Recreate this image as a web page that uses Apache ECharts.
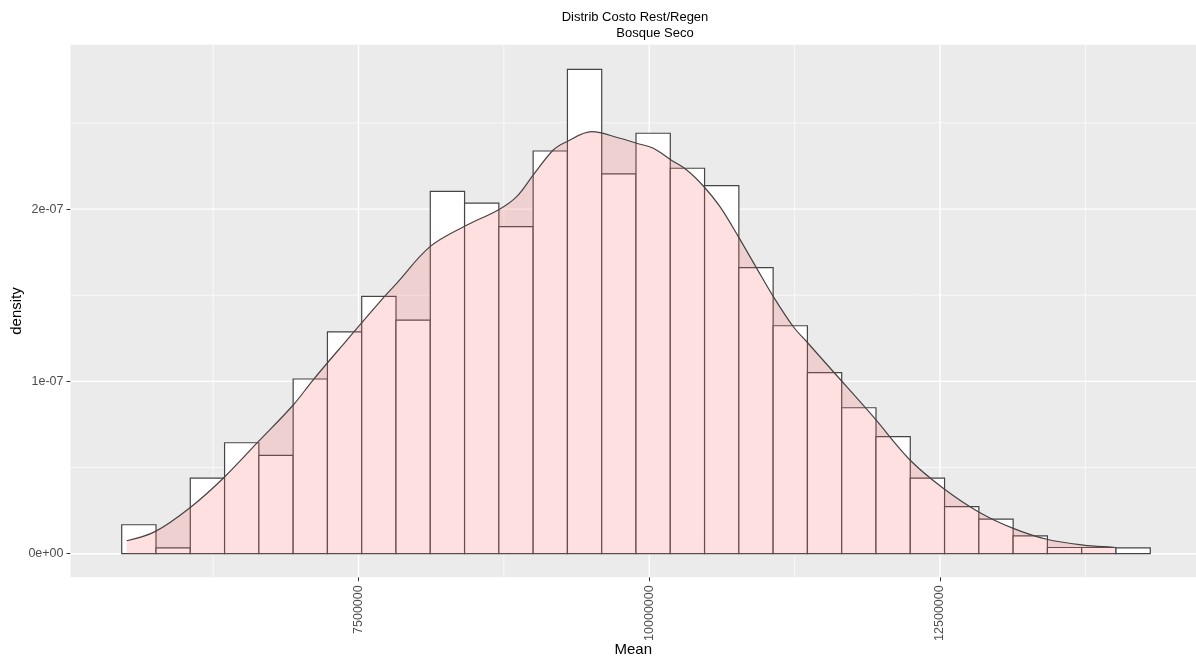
<!DOCTYPE html>
<html>
<head>
<meta charset="utf-8">
<script src="https://cdn.jsdelivr.net/npm/echarts@6/dist/echarts.min.js"></script>
<style>
html,body{margin:0;padding:0;background:#fff;}
#c{width:1196px;height:664px;}
</style>
</head>
<body>
<div id="c"></div>
<script>
// ---- data ----
var binCenters = [5611400, 5906200, 6201000, 6495800, 6790600, 7085400, 7380200, 7675000, 7969800, 8264600,
  8559400, 8854200, 9149000, 9443800, 9738600, 10033400, 10328200, 10623000, 10917800, 11212600,
  11507400, 11802200, 12097000, 12391800, 12686600, 12981400, 13276200, 13571000, 13865800, 14160600];
var binWidth = 294800;
var histDensity = [0.168e-7, 0.034e-7, 0.438e-7, 0.644e-7, 0.571e-7, 1.014e-7, 1.287e-7, 1.493e-7, 1.356e-7, 2.103e-7,
  2.034e-7, 1.898e-7, 2.337e-7, 2.811e-7, 2.204e-7, 2.440e-7, 2.237e-7, 2.136e-7, 1.660e-7, 1.323e-7,
  1.051e-7, 0.847e-7, 0.679e-7, 0.438e-7, 0.273e-7, 0.201e-7, 0.103e-7, 0.036e-7, 0.036e-7, 0.034e-7];
var kdeX = [5507000, 5750000, 6051000, 6337000, 6638000, 6939000, 7109000, 7393000, 7685000, 7828000,
  8115000, 8416000, 8702000, 8860000, 9003000, 9175000, 9290000, 9505000, 9748000, 9892000,
  10035000, 10178000, 10322000, 10465000, 10608000, 10766000, 10924000, 11067000, 11239000, 11354000,
  11583000, 11926000, 12242000, 12528000, 12829000, 13130000, 13417000, 13732000, 13990000, 14004000];
var kdeY = [0.075e-7, 0.128e-7, 0.267e-7, 0.438e-7, 0.650e-7, 0.863e-7, 1.008e-7, 1.234e-7, 1.463e-7, 1.569e-7,
  1.782e-7, 1.902e-7, 1.995e-7, 2.072e-7, 2.198e-7, 2.343e-7, 2.391e-7, 2.449e-7, 2.411e-7, 2.382e-7,
  2.353e-7, 2.289e-7, 2.227e-7, 2.134e-7, 2.014e-7, 1.840e-7, 1.656e-7, 1.492e-7, 1.317e-7, 1.230e-7,
  1.056e-7, 0.795e-7, 0.544e-7, 0.380e-7, 0.244e-7, 0.147e-7, 0.084e-7, 0.050e-7, 0.037e-7, 0.036e-7];
var xMajorTicks = [7500000, 10000000, 12500000];
var xMinorTicks = [6250000, 8750000, 11250000, 13750000];
var xTickLabels = ['7500000', '10000000', '12500000'];
var yMajorTicks = [0, 1e-7, 2e-7];
var yMinorTicks = [0.5e-7, 1.5e-7, 2.5e-7];
var yTickLabels = ['0e+00', '1e-07', '2e-07'];
var xRange = [5023600, 14701200];
var yRange = [-1.37e-8, 2.954e-7];

// ---- chart ----
var chart = echarts.init(document.getElementById('c'), null, {renderer: 'canvas'});
var histData = binCenters.map(function (c, i) { return [c, histDensity[i]]; });
var kdeData = kdeX.map(function (x, i) { return [x, kdeY[i]]; });
var vGrid = xMajorTicks.map(function (v) { return [v, 1]; }).concat(xMinorTicks.map(function (v) { return [v, 0]; }));
var hGrid = yMajorTicks.map(function (v) { return [v, 1]; }).concat(yMinorTicks.map(function (v) { return [v, 0]; }));

function labelFor(values, labels, v) {
  for (var i = 0; i < values.length; i++) {
    if (Math.abs(values[i] - v) <= Math.abs(values[values.length - 1]) * 1e-6 + 1e-20) return labels[i];
  }
  return '';
}

var FONT = 'Liberation Sans, Arial, sans-serif';

chart.setOption({
  animation: false,
  backgroundColor: '#ffffff',
  title: [
    {text: 'Distrib Costo Rest/Regen', left: 630, top: 6, textAlign: 'center',
     textStyle: {fontFamily: FONT, fontSize: 13, fontWeight: 'normal', color: '#000'}},
    {text: 'Bosque Seco', left: 650, top: 22, textAlign: 'center',
     textStyle: {fontFamily: FONT, fontSize: 13, fontWeight: 'normal', color: '#000'}}
  ],
  grid: {left: 70.5, right: 0, top: 44.7, bottom: 86.7, show: true, backgroundColor: '#EBEBEB', borderWidth: 0,
         containLabel: false, outerBoundsMode: 'none'},
  xAxis: {
    type: 'value', min: xRange[0], max: xRange[1],
    name: 'Mean', nameLocation: 'middle', nameGap: 65, nameMoveOverlap: false,
    nameTextStyle: {fontFamily: FONT, fontSize: 15, color: '#000'},
    axisLine: {show: false, onZero: false},
    axisTick: {show: true, length: 4, lineStyle: {color: '#333', width: 1}, customValues: xMajorTicks},
    axisLabel: {show: true, rotate: 90, margin: 8, customValues: xMajorTicks,
      fontFamily: FONT, fontSize: 12.5, color: '#4D4D4D',
      formatter: function (v) { return labelFor(xMajorTicks, xTickLabels, v); }},
    splitLine: {show: false}
  },
  yAxis: {
    type: 'value', min: yRange[0], max: yRange[1],
    name: 'density', nameLocation: 'middle', nameGap: 46, nameMoveOverlap: false,
    nameTextStyle: {fontFamily: FONT, fontSize: 15, color: '#000'},
    axisLine: {show: false, onZero: false},
    axisTick: {show: true, length: 4, lineStyle: {color: '#333', width: 1}, customValues: yMajorTicks},
    axisLabel: {show: true, margin: 7, customValues: yMajorTicks,
      fontFamily: FONT, fontSize: 12.5, color: '#4D4D4D',
      formatter: function (v) { return labelFor(yMajorTicks, yTickLabels, v); }},
    splitLine: {show: false}
  },
  series: [
    {
      type: 'custom', name: 'vgrid', z: 1, silent: true, clip: true,
      data: vGrid,
      renderItem: function (params, api) {
        var v = api.value(0), major = api.value(1);
        var p1 = api.coord([v, yRange[0]]), p2 = api.coord([v, yRange[1]]);
        return {type: 'line', shape: {x1: p1[0], y1: p1[1], x2: p2[0], y2: p2[1]},
          style: {stroke: '#ffffff', lineWidth: major ? 1.4 : 0.7}};
      }
    },
    {
      type: 'custom', name: 'hgrid', z: 1, silent: true, clip: true,
      data: hGrid,
      encode: {x: -1, y: 0},
      renderItem: function (params, api) {
        var v = api.value(0), major = api.value(1);
        var p1 = api.coord([xRange[0], v]), p2 = api.coord([xRange[1], v]);
        return {type: 'line', shape: {x1: p1[0], y1: p1[1], x2: p2[0], y2: p2[1]},
          style: {stroke: '#ffffff', lineWidth: major ? 1.4 : 0.7}};
      }
    },
    {
      type: 'custom', name: 'hist', z: 2, silent: true,
      data: histData,
      renderItem: function (params, api) {
        var c = api.value(0), d = api.value(1);
        var p0 = api.coord([c - binWidth / 2, 0]);
        var p1 = api.coord([c + binWidth / 2, d]);
        return {type: 'rect',
          shape: {x: p0[0], y: p1[1], width: p1[0] - p0[0], height: p0[1] - p1[1]},
          style: {fill: '#ffffff', stroke: '#454545', lineWidth: 1.2}};
      }
    },
    {
      type: 'line', name: 'density', z: 3, silent: true,
      data: kdeData, smooth: 0.35, showSymbol: false, symbol: 'none',
      lineStyle: {color: '#444444', width: 1.2},
      areaStyle: {color: '#FF6666', opacity: 0.2, origin: 0}
    }
  ]
});
</script>
</body>
</html>
